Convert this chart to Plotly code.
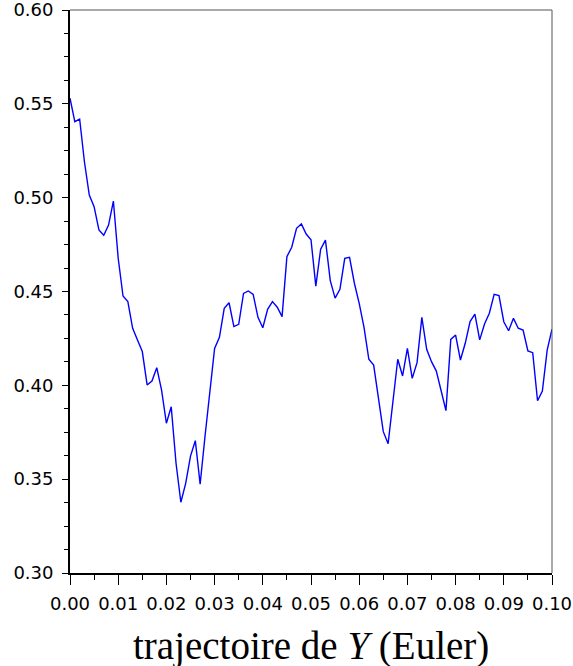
import plotly.graph_objects as go

t_values = [i * 0.001 for i in range(101)]
y_values = [
    0.553, 0.5405, 0.5419, 0.519, 0.5014, 0.4952, 0.4828, 0.480, 0.4854, 0.4982,
    0.4677, 0.4476, 0.4446, 0.4304, 0.4242, 0.418, 0.4002, 0.4023, 0.4094, 0.3975,
    0.3798, 0.3886, 0.3585, 0.3377, 0.3478, 0.3623, 0.3705, 0.3473, 0.3726, 0.3975,
    0.4197, 0.4256, 0.441, 0.444, 0.4313, 0.4325, 0.449, 0.4503, 0.4485, 0.4362,
    0.4307, 0.4405, 0.4446, 0.4416, 0.4366, 0.4686, 0.4736, 0.4837, 0.486, 0.4806,
    0.4776, 0.4529, 0.4725, 0.4774, 0.4558, 0.4465, 0.4512, 0.4677, 0.4682, 0.4544,
    0.4437, 0.4309, 0.4139, 0.4108, 0.394, 0.3753, 0.3689, 0.392, 0.4139, 0.405,
    0.4197, 0.4037, 0.4121, 0.4362, 0.4192, 0.4126, 0.4076, 0.3971, 0.3865, 0.4245,
    0.4268, 0.4135, 0.4224, 0.434, 0.438, 0.4242, 0.4327, 0.4384, 0.4485, 0.4478,
    0.4339, 0.4291, 0.4357, 0.4304, 0.4295, 0.4183, 0.4174, 0.3918, 0.397, 0.4188,
    0.4299,
]

x_ticks = [0.00, 0.01, 0.02, 0.03, 0.04, 0.05, 0.06, 0.07, 0.08, 0.09, 0.10]
x_ticklabels = ["0.00", "0.01", "0.02", "0.03", "0.04", "0.05", "0.06", "0.07", "0.08", "0.09", "0.10"]
y_ticks = [0.30, 0.35, 0.40, 0.45, 0.50, 0.55, 0.60]
y_ticklabels = ["0.30", "0.35", "0.40", "0.45", "0.50", "0.55", "0.60"]
title_text = "trajectoire de <i>Y</i> (Euler)"

fig = go.Figure()
fig.add_trace(go.Scatter(
    x=t_values, y=y_values, mode="lines",
    line=dict(color="#0000FF", width=1.4),
    showlegend=False, hoverinfo="skip",
))

tick_font = dict(family="DejaVu Sans, Arial, sans-serif", size=18, color="black")

fig.update_layout(
    width=573, height=666,
    margin=dict(l=70, r=21, t=10, b=93),
    paper_bgcolor="white", plot_bgcolor="white",
    xaxis=dict(
        range=[0, 0.1], showgrid=False, zeroline=False, automargin=False,
        tickmode="array", tickvals=x_ticks, ticktext=x_ticklabels,
        ticks="outside", ticklen=10, tickwidth=1.2, tickcolor="black",
        showline=True, linecolor="black", linewidth=1.5,
        tickfont=tick_font, ticklabelstandoff=4, ticklabeloverflow="allow",
        minor=dict(dtick=0.005, tick0=0, ticks="outside", ticklen=5, tickwidth=1, tickcolor="black"),
    ),
    yaxis=dict(
        range=[0.3, 0.6], showgrid=False, zeroline=False, automargin=False,
        tickmode="array", tickvals=y_ticks, ticktext=y_ticklabels,
        ticks="outside", ticklen=6, tickwidth=1.2, tickcolor="black",
        showline=True, linecolor="black", linewidth=1.8,
        tickfont=tick_font, ticklabelstandoff=5, ticklabeloverflow="allow",
        minor=dict(dtick=0.0125, tick0=0.3, ticks="outside", ticklen=4, tickwidth=1, tickcolor="black"),
    ),
    shapes=[
        dict(type="line", xref="paper", yref="paper", x0=0, x1=1, y0=1, y1=1,
             line=dict(color="#555555", width=1)),
        dict(type="line", xref="paper", yref="paper", x0=1, x1=1, y0=0, y1=1,
             line=dict(color="#555555", width=1)),
    ],
    annotations=[
        dict(text=title_text, xref="paper", yref="paper", x=0.5, y=-(646 - 573) / 563,
             xanchor="center", yanchor="middle", showarrow=False,
             font=dict(family="Liberation Serif, Times New Roman, serif", size=39, color="black")),
    ],
)

fig.write_html("out.html", config={"displayModeBar": False},
               post_script="document.body.style.margin='0';")
